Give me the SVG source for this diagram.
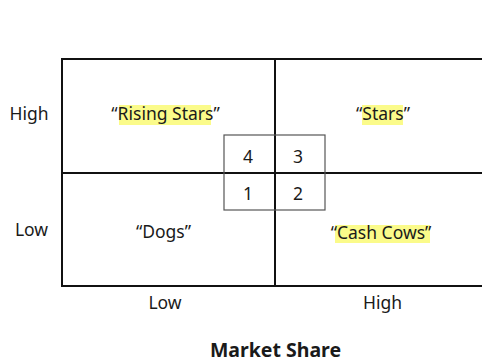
<svg xmlns="http://www.w3.org/2000/svg" width="482" height="362" viewBox="0 0 482 362">
<style>
text{font-family:"Noto Sans","Open Sans","DejaVu Sans",sans-serif;font-size:17.5px;fill:#1a1a1a;text-anchor:middle}
.b{font-weight:bold;font-size:19.5px}
.hl{fill:#fbfb8a}
.frame{fill:none;stroke:#111;stroke-width:2}
.inner{fill:none;stroke:#555;stroke-width:1.2}
</style>
<rect width="482" height="362" fill="#fff"/>
<g id="highlights">
<rect class="hl" x="119" y="105" width="92" height="20"/>
<rect class="hl" x="362" y="105" width="41" height="20"/>
<rect class="hl" x="335" y="225" width="95" height="18"/>
</g>
<g id="grid">
<polyline class="frame" points="483,59 62,59 62,286 483,286"/>
<line class="frame" x1="62" y1="173" x2="483" y2="173"/>
<line class="frame" x1="275" y1="59" x2="275" y2="286"/>
</g>
<g id="center-box">
<rect class="inner" x="224" y="135" width="101" height="75"/>
<text x="248" y="163">4</text>
<text x="298" y="163">3</text>
<text x="248" y="200">1</text>
<text x="298" y="200">2</text>
</g>
<g id="rising-stars"><text x="165.5" y="120">“Rising Stars”</text></g>
<g id="stars"><text x="383" y="120">“Stars”</text></g>
<g id="dogs"><text x="163.5" y="238">“Dogs”</text></g>
<g id="cash-cows"><text x="381" y="239">“Cash Cows”</text></g>
<g id="y-axis">
<text x="29" y="120">High</text>
<text x="31.5" y="236">Low</text>
</g>
<g id="x-axis">
<text x="165" y="309">Low</text>
<text x="382.5" y="309">High</text>
<text class="b" x="275.5" y="357">Market Share</text>
</g>
</svg>
